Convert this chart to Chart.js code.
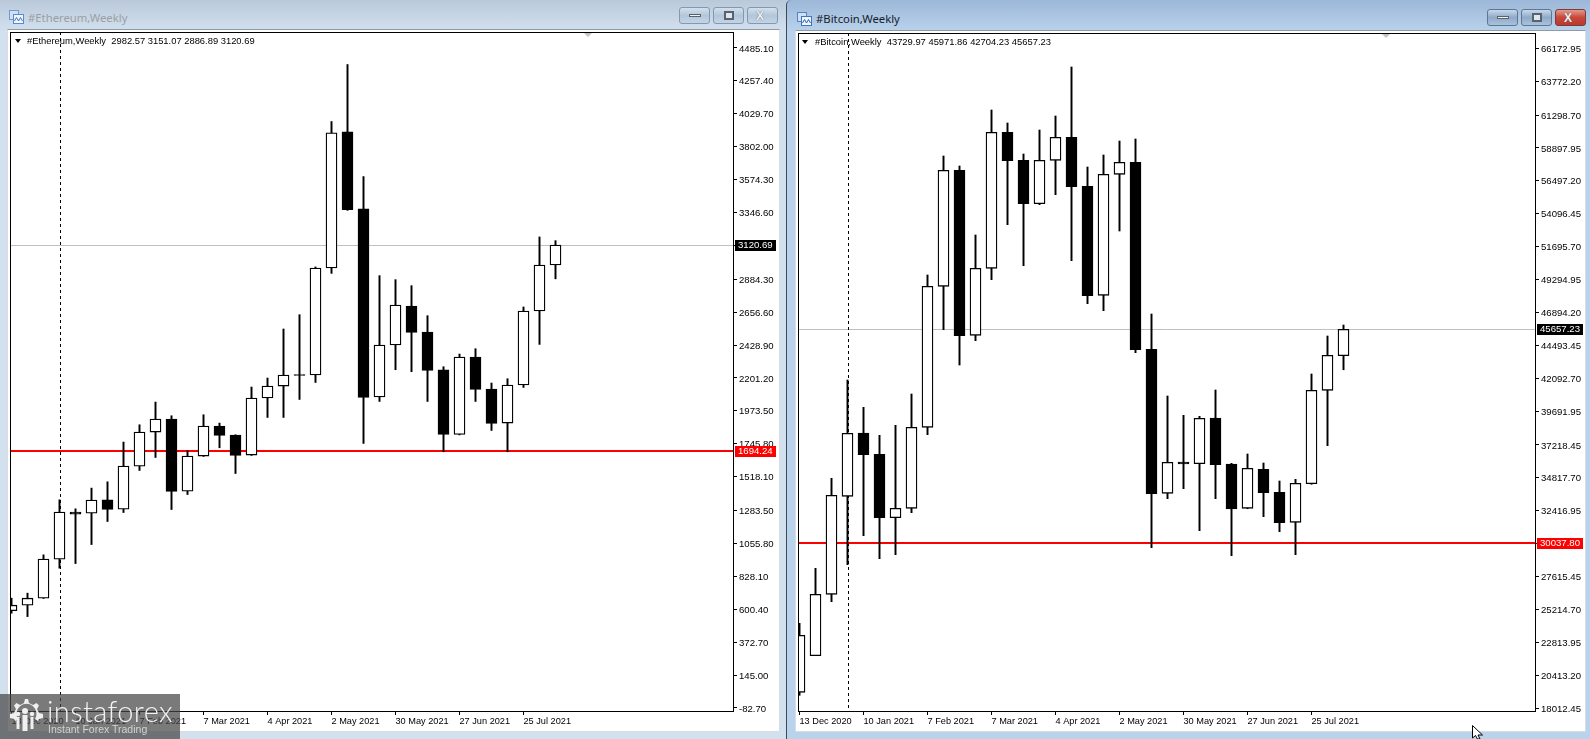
<!DOCTYPE html>
<html>
<head>
<meta charset="utf-8">
<title>Ethereum and Bitcoin weekly</title>
<script src="https://cdn.jsdelivr.net/npm/chart.js@4"></script>
<style>
html, body { margin: 0; padding: 0; width: 1590px; height: 739px; overflow: hidden; background: #b9d1ea; font-family: 'Liberation Sans', sans-serif; }
div, canvas, svg { position: absolute; }
#win1 { left: 0; top: 0; width: 786px; height: 739px; background: linear-gradient(#bac9da, #d3e1ef 32px); }
#win2 { left: 786px; top: 0; width: 804px; height: 739px; background: linear-gradient(#9cb7d8, #bad3ec 32px); border-left: 1px solid #3c4a58; box-sizing: border-box; border-top-left-radius: 5px; }
.client { background: #fff; box-sizing: border-box; border: 1px solid #d8dde2; border-top-color: #8f9aa6; }
#client1 { left: 7px; top: 29px; width: 773px; height: 703px; }
#client2 { left: 795px; top: 30px; width: 791px; height: 702px; }
.title { font-family: 'Noto Sans', sans-serif; font-size: 11.3px; white-space: nowrap; line-height: 16px; }
#title1 { left: 28px; top: 10px; color: #9a9fa6; }
#title2 { left: 816px; top: 11px; color: #16202c; }
.legend { font-size: 9.4px; color: #000; white-space: nowrap; line-height: 12px; }
#legend1 { left: 27px; top: 35px; }
#legend2 { left: 815px; top: 36px; }
.tri { width: 0; height: 0; border-left: 3.5px solid transparent; border-right: 3.5px solid transparent; border-top: 4px solid #000; }
.shift { width: 0; height: 0; border-left: 4px solid transparent; border-right: 4px solid transparent; border-top: 4px solid #c4c4c4; }
.btn { width: 31px; height: 17px; box-sizing: border-box; border: 1px solid #8499ae; border-radius: 3px; background: linear-gradient(#d3e0ee, #b3c6da 50%, #c3d4e6); }
.btn.on { background: linear-gradient(#c8d9ec, #8fa9c8 50%, #a9c2dc); border-color: #5f7690; }
.btn.close { background: linear-gradient(#e39a8e, #c9463a 50%, #b93a2e); border-color: #7e3a34; }
.btn.off-close { background: linear-gradient(#d3e0ee, #b3c6da 50%, #c3d4e6); }
.glyph { left: 9px; top: 6px; width: 12px; height: 3px; background: #f2f2f2; border: 1px solid #56636f; box-sizing: border-box; }
.glyph.max { left: 10px; top: 3px; width: 10px; height: 9px; background: #dfe6ee; border: 2px solid #56636f; }
.cross { left: 8px; top: 1px; font: bold 12px/14px 'Liberation Sans', sans-serif; color: #eef1f4; text-shadow: 0 0 1px #444; }
#mark { left: 0; top: 694px; width: 180px; height: 45px; background: rgba(70,70,70,0.72); }
#markName { left: 47px; top: -3px; color: #f2f2f2; font: 300 29px/40px Lato, sans-serif; letter-spacing: 0.4px; white-space: nowrap; }
#markSub { left: 48px; top: 28px; color: #d2d2d2; font: 10.5px/14px 'Liberation Sans', sans-serif; white-space: nowrap; }
</style>
</head>
<body>
<div id="win1"></div>
<div id="win2"></div>
<div id="client1" class="client"></div>
<div id="client2" class="client"></div>

<svg style="left:9px;top:10px" width="15" height="14" viewBox="0 0 15 14"><rect x="0.5" y="0.5" width="9" height="9" fill="#cfe0f4" stroke="#6f9bd0"/><rect x="4.5" y="4.5" width="10" height="9" fill="#eef5fd" stroke="#5a8ccb"/><path d="M5.5 11 L7.5 7.5 L9.5 11 L11.5 7.5 L13.5 11" fill="none" stroke="#3f76bd"/></svg>
<svg style="left:797px;top:12px" width="15" height="14" viewBox="0 0 15 14"><rect x="0.5" y="0.5" width="9" height="9" fill="#cfe0f4" stroke="#4f86c8"/><rect x="4.5" y="4.5" width="10" height="9" fill="#eef5fd" stroke="#3f76bd"/><path d="M5.5 11 L7.5 7.5 L9.5 11 L11.5 7.5 L13.5 11" fill="none" stroke="#2a62ad"/></svg>
<div id="title1" class="title">#Ethereum,Weekly</div>
<div id="title2" class="title">#Bitcoin,Weekly</div>

<div class="btn" style="left:679px;top:7px"><div class="glyph"></div></div>
<div class="btn" style="left:713px;top:7px"><div class="glyph max"></div></div>
<div class="btn off-close" style="left:747px;top:7px"><div class="cross">X</div></div>
<div class="btn on" style="left:1487px;top:9px"><div class="glyph"></div></div>
<div class="btn on" style="left:1521px;top:9px"><div class="glyph max"></div></div>
<div class="btn close" style="left:1555px;top:9px"><div class="cross">X</div></div>

<canvas id="chart-ethereum" width="783" height="728" style="left:0;top:0;width:783px;height:728px"></canvas>
<canvas id="chart-bitcoin" width="803" height="728" style="left:787px;top:0;width:803px;height:728px"></canvas>

<div class="tri" style="left:15px;top:39px"></div>
<div class="tri" style="left:802px;top:40px"></div>
<div id="legend1" class="legend">#Ethereum,Weekly&nbsp; 2982.57 3151.07 2886.89 3120.69</div>
<div id="legend2" class="legend">#Bitcoin,Weekly&nbsp; 43729.97 45971.86 42704.23 45657.23</div>
<div class="shift" style="left:584px;top:33px"></div>
<div class="shift" style="left:1382px;top:34px"></div>

<div id="mark">
  <svg style="left:7px;top:3px" width="36" height="36" viewBox="0 0 36 36">
    <g fill="#f0f0f0">
      <path d="M18 2 l3 0 1 4 4 2 3.500-2 2.500 2.500-2 3.500 2 4 4 1 0 4-4 1-1 2-3-2a10 10 0 1 0-17 0l-3 2-1-2-4-1 0-4 4-1 2-4-2-3.500 2.500-2.500 3.500 2 4-2z"/>
      <circle cx="18" cy="14" r="3"/><circle cx="11" cy="17" r="2.200"/><circle cx="25" cy="17" r="2.200"/>
      <rect x="15.500" y="18" width="5" height="16"/><rect x="9.500" y="20" width="3" height="12"/><rect x="23.500" y="20" width="3" height="12"/>
    </g>
  </svg>
  <div id="markName">instaforex</div>
  <div id="markSub">Instant Forex Trading</div>
</div>

<svg style="left:1472px;top:725px" width="12" height="14" viewBox="0 0 12 14"><path d="M0.500 0.500 L0.500 13 L3.500 10.500 L5.500 14 L8 14 L6 10 L10.500 10 Z" fill="#fff" stroke="#000"/></svg>

<script>
const weekDates = ['13 Dec 2020', '20 Dec 2020', '27 Dec 2020', '3 Jan 2021', '10 Jan 2021', '17 Jan 2021', '24 Jan 2021', '31 Jan 2021',
    '7 Feb 2021', '14 Feb 2021', '21 Feb 2021', '28 Feb 2021', '7 Mar 2021', '14 Mar 2021', '21 Mar 2021', '28 Mar 2021',
    '4 Apr 2021', '11 Apr 2021', '18 Apr 2021', '25 Apr 2021', '2 May 2021', '9 May 2021', '16 May 2021', '23 May 2021',
    '30 May 2021', '6 Jun 2021', '13 Jun 2021', '20 Jun 2021', '27 Jun 2021', '4 Jul 2021', '11 Jul 2021', '18 Jul 2021',
    '25 Jul 2021', '1 Aug 2021', '8 Aug 2021'];

const ethOpen = [591.2, 628.7, 677.2, 947.2, 1272.6, 1265.7, 1357.8, 1293.4, 1591.1, 1826.5, 1916.5, 1418.0, 1660.4, 1868.1, 1805.8, 1667.3, 2062.0, 2145.0,
    2224.0, 2221.2, 2962.1, 3903.8, 3370.6, 2068.9, 2428.9, 2699.0, 2518.9, 2257.9, 1809.9, 2345.8, 2124.3, 1888.9, 2152.0, 2664.4, 2982.57];
const ethHigh = [677.2, 711.8, 977.0, 1357.8, 1295.5, 1438.8, 1482.4, 1757.3, 1877.1, 2034.2, 1939.4, 1697.1, 1946.3, 1888.8, 1807.9, 2138.1, 2200.4, 2539.8,
    2638.7, 2969.0, 3975.1, 4369.7, 3594.3, 2908.8, 2881.1, 2839.5, 2631.8, 2278.7, 2366.6, 2403.3, 2165.8, 2195.6, 2692.1, 3176.7, 3151.07];
const ethLow = [573.3, 549.8, 675.0, 884.8, 916.8, 1048.2, 1207.6, 1269.9, 1560.7, 1650.7, 1290.6, 1394.5, 1658.0, 1717.9, 1539.8, 1665.0, 1927.7, 1927.7,
    2052.3, 2170.0, 2924.7, 3360.9, 1747.6, 2038.4, 2257.9, 2244.1, 2038.4, 1690.2, 1807.0, 2038.4, 1837.7, 1690.2, 2135.3, 2433.1, 2886.89];
const ethClose = [628.7, 677.2, 947.2, 1272.6, 1258.8, 1355.7, 1290.6, 1591.1, 1826.5, 1916.5, 1415.3, 1660.4, 1868.1, 1803.0, 1664.5, 2062.0, 2145.0, 2221.2,
    2218.0, 2962.1, 3896.8, 3365.8, 2066.1, 2428.9, 2705.9, 2516.2, 2253.1, 1809.9, 2345.8, 2121.5, 1886.1, 2152.0, 2664.4, 2982.8, 3120.69];
const ethTicks = [4485.10, 4257.40, 4029.70, 3802.00, 3574.30, 3346.60, 3118.90, 2884.30, 2656.60, 2428.90, 2201.20, 1973.50, 1745.80, 1518.10, 1283.50, 1055.80, 828.10, 600.40, 372.70, 145.00, -82.70];

const btcOpen = [19158.5, 21830.4, 26312.5, 33466.5, 38087.5, 36532.5, 31904.4, 32590.5, 38503.5, 48796.5, 57264.5, 45219.5, 50110.5, 60038.5, 57994.5, 54826.4, 57994.5, 59673.5,
    56096.5, 48139.5, 56972.5, 57848.5, 44197.5, 33685.5, 35970.0, 35846.4, 39182.5, 35824.5, 32590.5, 35437.5, 33758.5, 31568.5, 34386.4, 41204.5, 43729.97];
const btcHigh = [24195.5, 28210.5, 34780.5, 41956.5, 39963.5, 37919.5, 38649.5, 40934.5, 49621.5, 58308.5, 57578.5, 52541.5, 61666.5, 60717.5, 58454.5, 60206.5, 61228.5, 64805.5,
    57505.5, 58381.5, 59403.5, 59549.5, 46774.5, 40788.5, 39379.5, 39306.5, 41226.5, 35875.5, 36554.5, 35897.5, 34583.5, 34707.5, 42394.5, 45168.5, 45971.86];
const btcLow = [18939.5, 21830.4, 25772.4, 28473.4, 30590.4, 28911.4, 29203.4, 32269.4, 37963.4, 45628.4, 43051.5, 44825.4, 49278.4, 53293.4, 50300.4, 54753.4, 55483.4, 50665.4,
    47526.4, 47015.4, 52833.5, 43949.4, 29714.4, 33291.4, 34021.4, 30955.4, 33291.4, 29130.4, 32560.0, 31977.4, 30882.4, 29203.4, 34342.5, 37160.4, 42704.23];
const btcClose = [23319.6, 26312.5, 33539.5, 38065.5, 36503.4, 31904.4, 32590.5, 38503.5, 48796.5, 57264.5, 45190.4, 50110.5, 60038.5, 57965.4, 54826.4, 57994.5, 59673.5, 56067.4,
    48110.4, 56972.5, 57848.5, 44168.4, 33656.4, 35948.5, 35825.0, 39160.5, 35773.4, 32539.5, 35510.5, 33729.4, 31539.4, 34415.5, 41204.5, 43759.5, 45657.23];
const btcTicks = [66172.95, 63772.20, 61298.70, 58897.95, 56497.20, 54096.45, 51695.70, 49294.95, 46894.20, 44493.45, 42092.70, 39691.95, 37218.45, 34817.70, 32416.95, 30016.20, 27615.45, 25214.70, 22813.95, 20413.20, 18012.45];

const labelFont = { family: "'Liberation Sans', sans-serif", size: 9.6 };
const dateFont = { family: "'Liberation Sans', sans-serif", size: 9.2 };

/*
 * Everything the terminal paints around the candles: price lines, the period separator,
 * the frame and the two price tags on the axis.
 */
const terminalPlugin = {
    id: 'terminal',
    beforeDatasetsDraw(chart, args, opts) {
        const { ctx, chartArea: area, scales } = chart;
        const lastY = Math.round(scales.y.getPixelForValue(opts.lastPrice)) + 0.5;
        const levelY = Math.round(scales.y.getPixelForValue(opts.levelPrice));
        const sepX = Math.round(scales.x.getPixelForValue(opts.separatorAt)) + 0.5;
        ctx.save();
        ctx.strokeStyle = '#c0c0c0';
        ctx.lineWidth = 1;
        ctx.beginPath();
        ctx.moveTo(area.left, lastY);
        ctx.lineTo(area.right, lastY);
        ctx.stroke();

        ctx.strokeStyle = '#000';
        ctx.setLineDash([3, 3]);
        ctx.beginPath();
        ctx.moveTo(sepX, area.top);
        ctx.lineTo(sepX, area.bottom);
        ctx.stroke();
        ctx.setLineDash([]);

        ctx.strokeStyle = '#ff0000';
        ctx.lineWidth = 2;
        ctx.beginPath();
        ctx.moveTo(area.left + 1, levelY);
        ctx.lineTo(area.right, levelY);
        ctx.stroke();
        ctx.restore();
    },
    afterDraw(chart, args, opts) {
        const { ctx, chartArea: area, scales } = chart;
        ctx.save();
        ctx.strokeStyle = '#000';
        ctx.lineWidth = 1;
        ctx.strokeRect(area.left + 0.5, area.top + 0.5, area.right - area.left, area.bottom - area.top);

        function priceTag(price, color) {
            const y = Math.round(scales.y.getPixelForValue(price));
            ctx.fillStyle = color;
            ctx.fillRect(area.right + 2, y - 5, opts.tagWidth, 11);
            ctx.fillStyle = '#fff';
            ctx.font = `${labelFont.size}px ${labelFont.family}`;
            ctx.textAlign = 'left';
            ctx.textBaseline = 'middle';
            ctx.fillText(price.toFixed(2), area.right + 5, y + 0.5);
        }
        priceTag(opts.lastPrice, '#000');
        priceTag(opts.levelPrice, '#ff0000');
        ctx.restore();
    }
};

function showCandles(canvasId, settings) {
    const { open, high, low, close, tickValues } = settings;
    const wicks = high.map((value, i) => ({ x: i, y: [low[i], value] }));
    const bodies = open.map((value, i) => ({ x: i, y: [Math.min(value, close[i]), Math.max(value, close[i])] }));
    const bodyColors = open.map((value, i) => (close[i] >= value ? '#fff' : '#000'));
    const labelledWeeks = weekDates.map((date, i) => i).filter(i => i % 4 === 0);

    new Chart(document.getElementById(canvasId), {
        type: 'bar',
        plugins: [terminalPlugin],
        data: {
            datasets: [{
                label: 'Body',
                data: bodies,
                backgroundColor: bodyColors,
                borderColor: '#000',
                borderWidth: 1.3,
                borderSkipped: false,
                barThickness: 11,
                grouped: false,
                order: 1
            }, {
                label: 'Wick',
                data: wicks,
                backgroundColor: '#000',
                borderWidth: 0,
                barThickness: 1.3,
                grouped: false,
                order: 2
            }]
        },
        options: {
            responsive: false,
            animation: false,
            devicePixelRatio: 1,
            layout: { padding: { left: settings.paddingLeft, top: settings.paddingTop, right: 0, bottom: 0 } },
            plugins: {
                legend: { display: false },
                tooltip: { enabled: false },
                terminal: {
                    lastPrice: settings.lastPrice,
                    levelPrice: settings.levelPrice,
                    separatorAt: 3,
                    tagWidth: settings.tagWidth
                }
            },
            scales: {
                x: {
                    type: 'linear',
                    offset: false,
                    min: settings.xMin,
                    max: settings.xMax,
                    border: { display: false },
                    grid: { offset: false, drawOnChartArea: false, drawTicks: true, tickLength: 4, color: '#000' },
                    ticks: {
                        autoSkip: false,
                        maxRotation: 0,
                        align: 'start',
                        padding: 1,
                        color: '#000',
                        font: dateFont,
                        callback: value => weekDates[value]
                    },
                    afterBuildTicks: axis => { axis.ticks = labelledWeeks.map(i => ({ value: i })); },
                    afterFit: axis => { axis.height = 17; }
                },
                y: {
                    position: 'right',
                    min: settings.yMin,
                    max: settings.yMax,
                    border: { display: false },
                    grid: { drawOnChartArea: false, drawTicks: true, tickLength: 4, color: '#000' },
                    ticks: {
                        autoSkip: false,
                        padding: 2,
                        labelOffset: 1,
                        color: '#000',
                        font: labelFont,
                        callback: value => value.toFixed(2)
                    },
                    afterBuildTicks: axis => { axis.ticks = tickValues.map(v => ({ value: v })); },
                    afterFit: axis => { axis.width = settings.axisWidth; }
                }
            }
        }
    });
}

showCandles('chart-ethereum', {
    open: ethOpen, high: ethHigh, low: ethLow, close: ethClose, tickValues: ethTicks,
    lastPrice: 3120.69, levelPrice: 1694.24,
    yMin: -103.5, yMax: 4594.8,
    xMin: -0.09375, xMax: 45.09375,
    paddingLeft: 10, paddingTop: 32, axisWidth: 50, tagWidth: 41
});

showCandles('chart-bitcoin', {
    open: btcOpen, high: btcHigh, low: btcLow, close: btcClose, tickValues: btcTicks,
    lastPrice: 45657.23, levelPrice: 30037.80,
    yMin: 17793.45, yMax: 67287.45,
    xMin: -0.09375, xMax: 45.96875,
    paddingLeft: 11, paddingTop: 33, axisWidth: 55, tagWidth: 46
});
</script>
</body>
</html>
